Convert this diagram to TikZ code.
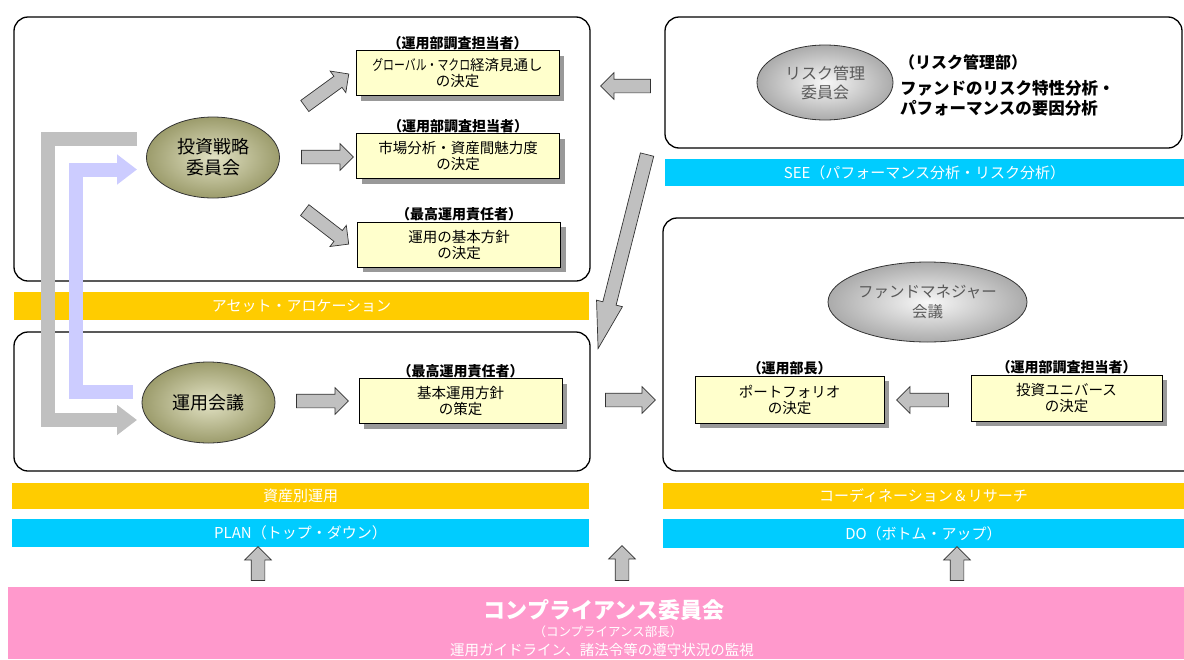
\documentclass[tikz,border=0pt]{standalone}
\usepackage{graphicx}
\usepackage{fontspec}
\setmainfont{Noto Sans CJK JP}
\usetikzlibrary{shapes.arrows,shapes.geometric,shadows,calc,arrows.meta}

\definecolor{bandY}{HTML}{FFCC00}
\definecolor{bandC}{HTML}{00CCFF}
\definecolor{pinkC}{HTML}{FF99CC}
\definecolor{boxY}{HTML}{FFFFCC}
\definecolor{arrG}{HTML}{C0C0C0}
\definecolor{lav}{HTML}{CCCCFF}
\definecolor{oliveIn}{HTML}{E2E2C4}
\definecolor{oliveOut}{HTML}{9C9C6C}
\definecolor{silvIn}{HTML}{F8F8F8}
\definecolor{silvOut}{HTML}{ABABAB}

\newcommand\fsz[2]{\fontsize{#1}{#2}\selectfont}
\newcommand\blockarrow[4][]{%
  \path let \p1=#3, \p2=#4,
    \n1={atan2(\y2-\y1,\x2-\x1)}, \n2={veclen(\x2-\x1,\y2-\y1)} in
    node[blockarr, #1, rotate=\n1, minimum height={(\n2)*1pt}] (#2) at ($#3!0.5!#4$) {};}

\tikzset{
  panel/.style={draw=black, line width=1.3pt, rounded corners=14pt, inner sep=0},
  band/.style={draw=none, text=white, font=\fsz{15}{17}, inner sep=0},
  ybox/.style={draw=black, line width=0.8pt, fill=boxY, minimum width=203pt,
    minimum height=45pt, align=center, inner sep=1pt, font=\fsz{14.5}{16},
    drop shadow={shadow xshift=5pt, shadow yshift=-5pt, fill=black!40, opacity=1}},
  role/.style={font=\bfseries\fsz{14}{15}, inner sep=0, anchor=south},
  oval/.style={ellipse, draw=black!80, line width=0.8pt, align=center, inner sep=0},
  olive/.style={oval, shade, inner color=oliveIn, outer color=oliveOut, font=\fsz{18}{21}},
  silver/.style={oval, shade, inner color=silvIn, outer color=silvOut, text=black!65},
  blockarr/.style={single arrow, draw=black!80, fill=arrG, line width=0.7pt,
    inner xsep=0pt, inner ysep=6.5pt, single arrow head extend=6.5pt,
    single arrow tip angle=90, minimum width=26pt},
  bracket/.style={line width=14pt, -{Triangle[length=20pt,width=29pt]}},
}

\begin{document}
\begin{tikzpicture}[x=1pt,y=-1pt]
\useasboundingbox (0,0) rectangle (1184,659);
\clip (0,0) rectangle (1184,659);

% panels
\node[panel, minimum width=576pt, minimum height=264pt] (ptl) at (302,149) {};
\node[panel, minimum width=576pt, minimum height=139pt] (pbl) at (302,401.5) {};
\node[panel, minimum width=517pt, minimum height=131pt] (ptr) at (923.5,82.5) {};
\node[panel, minimum width=547pt, minimum height=253pt] (pbr) at (936.5,344.5) {};

% bands
\node[band, fill=bandY, minimum width=575pt, minimum height=28pt] (aa) at (301.5,306) {アセット・アロケーション};
\node[band, fill=bandY, minimum width=577pt, minimum height=26pt] (sb) at (300.5,496) {資産別運用};
\node[band, fill=bandC, minimum width=577pt, minimum height=28pt] (plan) at (300.5,533) {PLAN（トップ・ダウン）};
\node[band, fill=bandC, minimum width=519pt, minimum height=27pt] (see) at (924.5,172.5) {SEE（パフォーマンス分析・リスク分析）};
\node[band, fill=bandY, minimum width=521pt, minimum height=26pt] (cr) at (923.5,496) {コーディネーション＆リサーチ};
\node[band, fill=bandC, minimum width=521pt, minimum height=29pt] (do) at (923.5,533.5) {DO（ボトム・アップ）};
\node[band, fill=pinkC, minimum width=1176pt, minimum height=72pt] (pink) at (596,623) {};
\node[font=\bfseries\fsz{22}{24}, text=white, inner sep=0] (cpt) at (604,610) {コンプライアンス委員会};
\node[font=\fsz{12.5}{14}, text=white, inner sep=0] (cps) at (608,632) {（コンプライアンス部長）};
\node[font=\fsz{14.5}{16}, text=white, inner sep=0] (cpd) at (602,650) {運用ガイドライン、諸法令等の遵守状況の監視};

% ellipses
\node[olive, minimum width=133pt, minimum height=81pt] (inv) at (213,157.5) {投資戦略\\委員会};
\node[olive, minimum width=133pt, minimum height=81pt] (unyo) at (208.5,402.5) {運用会議};
\node[silver, minimum width=136pt, minimum height=75pt, font=\fsz{16}{19}] (risk) at (825,82.5) {リスク管理\\委員会};
\node[silver, minimum width=199pt, minimum height=80pt, font=\fsz{15.5}{20}] (fm) at (927.5,302) {ファンドマネジャー\\会議};

% risk texts
\node[anchor=west, font=\bfseries\fsz{16}{18}, inner sep=0] (riskdept) at (899,62) {（リスク管理部）};
\node[anchor=west, align=left, font=\bfseries\fsz{16.5}{20}, inner sep=0] (riskdesc) at (900,98) {ファンドのリスク特性分析・\\パフォーマンスの要因分析};

% yellow boxes
\node[ybox] (b1) at (457.5,73) {\scalebox{0.75}[1]{グローバル・マクロ}経済見通し\\の決定};
\node[ybox] (b2) at (458,156) {市場分析・資産間魅力度\\の決定};
\node[ybox] (b3) at (459,244.5) {運用の基本方針\\の決定};
\node[ybox] (b4) at (460.5,401) {基本運用方針\\の策定};
\node[ybox, minimum width=189pt, minimum height=47pt] (b5) at (789.5,399.5) {ポートフォリオ\\の決定};
\node[ybox, minimum width=191pt, minimum height=46pt] (b6) at (1066.5,398) {投資ユニバース\\の決定};

\node[role] (r1) at (b1.north) {（運用部調査担当者）};
\node[role] (r2) at (b2.north) {（運用部調査担当者）};
\node[role] (r3) at (b3.north) {（最高運用責任者）};
\node[role] (r4) at (b4.north) {（最高運用責任者）};
\node[role] (r5) at (b5.north) {（運用部長）};
\node[role] (r6) at (b6.north) {（運用部調査担当者）};

% bracket arrows
\coordinate (g1) at (137,138.5);
\coordinate (g2) at (137,420);
\draw[bracket, arrG] (g1) -- (47.5,138.5) -- (47.5,420) -- (g2);
\coordinate (l1) at (133,391.5);
\coordinate (l2) at (137,169.5);
\draw[bracket, lav] (l1) -- (76,391.5) -- (76,169.5) -- (l2);

% block arrows
\coordinate (a1s) at (302,108); \coordinate (a1e) at (346,76);
\coordinate (a2s) at (298,157); \coordinate (a2e) at (350,157);
\coordinate (a3s) at (302,208); \coordinate (a3e) at (346,242);
\coordinate (a4s) at (293,401); \coordinate (a4e) at (345,401);
\coordinate (a5s) at (602,400); \coordinate (a5e) at (652,400);
\coordinate (a6s) at (654,86);  \coordinate (a6e) at (604,86);
\coordinate (a7s) at (650,143); \coordinate (a7e) at (601,337);
\coordinate (a8s) at (952,400); \coordinate (a8e) at (900,400);
\coordinate (u1s) at (258,584); \coordinate (u1e) at (258,550);
\coordinate (u2s) at (622,584); \coordinate (u2e) at (622,549);
\coordinate (u3s) at (957,584); \coordinate (u3e) at (957,550);
\blockarrow{ar1}{(a1s)}{(a1e)}
\blockarrow{ar2}{(a2s)}{(a2e)}
\blockarrow{ar3}{(a3s)}{(a3e)}
\blockarrow{ar4}{(a4s)}{(a4e)}
\blockarrow{ar5}{(a5s)}{(a5e)}
\blockarrow{ar6}{(a6s)}{(a6e)}
\blockarrow[single arrow tip angle=32]{ar7}{(a7s)}{(a7e)}
\blockarrow{ar8}{(a8s)}{(a8e)}
\blockarrow{up1}{(u1s)}{(u1e)}
\blockarrow{up2}{(u2s)}{(u2e)}
\blockarrow{up3}{(u3s)}{(u3e)}
\end{tikzpicture}
\end{document}
